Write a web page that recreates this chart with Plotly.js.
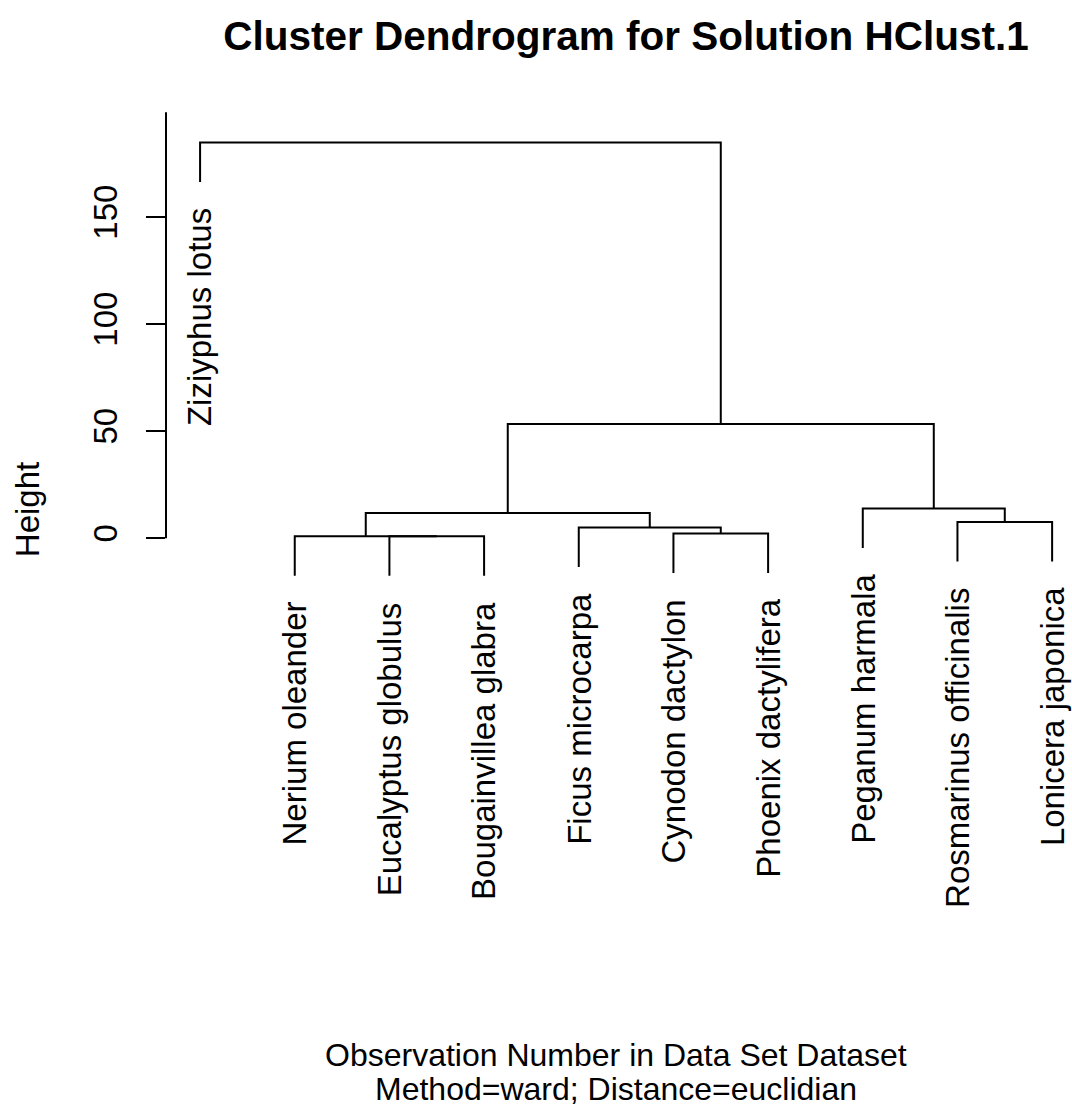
<!DOCTYPE html>
<html>
<head>
<meta charset="utf-8">
<script src="https://cdn.plot.ly/plotly-3.0.1.min.js"></script>
<style>html,body{margin:0;padding:0;background:#fff;}</style>
</head>
<body>
<div id="chart" style="width:1072px;height:1108px;"></div>
<script>
// Leaves in plotted order
const leafLabels = ["Ziziyphus lotus", "Nerium oleander", "Eucalyptus globulus", "Bougainvillea glabra",
  "Ficus microcarpa", "Cynodon dactylon", "Phoenix dactylifera", "Peganum harmala",
  "Rosmarinus officinalis", "Lonicera japonica"];
// Merge steps (negative = leaf position 1..10, positive = earlier merge step)
const mergeLeft   = [-3, -2, -6, -5, -9, 2, -8, 6, -1];
const mergeRight  = [-4,  1, -7,  3, -10, 4, 5, 7, 8];
const mergeHeight = [0.9, 0.95, 2.2, 5.0, 7.6, 11.8, 13.9, 53.3, 184.9];
const yTicks = [0, 50, 100, 150];

const hang = 0.1 * Math.max(...mergeHeight);
const mergeX = [];
const xs = [], ys = [];
const leafEnds = {};
function childX(c) { return c < 0 ? -c : mergeX[c - 1]; }
for (let i = 0; i < mergeHeight.length; i++) {
  const h = mergeHeight[i];
  const l = mergeLeft[i], r = mergeRight[i];
  const xl = childX(l), xr = childX(r);
  const yl = l < 0 ? h - hang : mergeHeight[l - 1];
  const yr = r < 0 ? h - hang : mergeHeight[r - 1];
  if (l < 0) leafEnds[-l] = yl;
  if (r < 0) leafEnds[-r] = yr;
  xs.push(xl, xl, xr, xr, null);
  ys.push(yl, h, h, yr, null);
  mergeX.push((xl + xr) / 2);
}

const FONT = "Liberation Sans, Arial, Helvetica, sans-serif";
const annotations = leafLabels.map((lab, i) => ({
  x: i + 1, y: leafEnds[i + 1], xref: 'x', yref: 'y',
  text: lab, textangle: -90, showarrow: false,
  xanchor: 'center', yanchor: 'top', yshift: -24,
  font: {family: FONT, size: 33, color: '#000'}
}));
annotations.push({
  xref: 'paper', yref: 'paper', x: -0.1534, y: 0.151,
  text: 'Height', textangle: -90, showarrow: false,
  xanchor: 'center', yanchor: 'middle',
  font: {family: FONT, size: 33, color: '#000'}
});
annotations.push({
  xref: 'paper', yref: 'paper', x: 0.4967, y: -1.011,
  text: 'Observation Number in Data Set Dataset', showarrow: false,
  xanchor: 'center', yanchor: 'middle',
  font: {family: FONT, size: 32, color: '#000'}
});
annotations.push({
  xref: 'paper', yref: 'paper', x: 0.4967, y: -1.083,
  text: 'Method=ward; Distance=euclidian', showarrow: false,
  xanchor: 'center', yanchor: 'middle',
  font: {family: FONT, size: 32, color: '#000'}
});

const trace = {
  x: xs, y: ys, type: 'scatter', mode: 'lines',
  line: {color: '#000', width: 2}, hoverinfo: 'skip', showlegend: false,
  cliponaxis: false
};

const layout = {
  width: 1072, height: 1108,
  margin: {l: 166, r: 0, t: 112, b: 527, pad: 0},
  paper_bgcolor: '#fff', plot_bgcolor: '#fff',
  title: {
    text: '<b>Cluster Dendrogram for Solution HClust.1</b>',
    xref: 'container', yref: 'container', x: 0.584, y: 0.968,
    xanchor: 'center', yanchor: 'middle',
    font: {family: FONT, size: 40.5, color: '#000'}
  },
  xaxis: {range: [0.64, 10.21], visible: false, fixedrange: true},
  yaxis: {
    range: [-20, 199.1], tickvals: yTicks, ticktext: yTicks.map(String),
    ticks: 'outside', ticklen: 19, tickwidth: 2, tickcolor: '#000',
    tickangle: -90, tickfont: {family: FONT, size: 33, color: '#000'},
    showline: false, zeroline: false, showgrid: false, fixedrange: true,
    ticklabelstandoff: 16
  },
  shapes: [{
    type: 'line', xref: 'paper', yref: 'y', x0: 0, x1: 0, y0: 0, y1: 199,
    line: {color: '#000', width: 2}
  }],
  annotations: annotations,
  showlegend: false
};

Plotly.newPlot('chart', [trace], layout, {displayModeBar: false, staticPlot: true});
</script>
</body>
</html>
